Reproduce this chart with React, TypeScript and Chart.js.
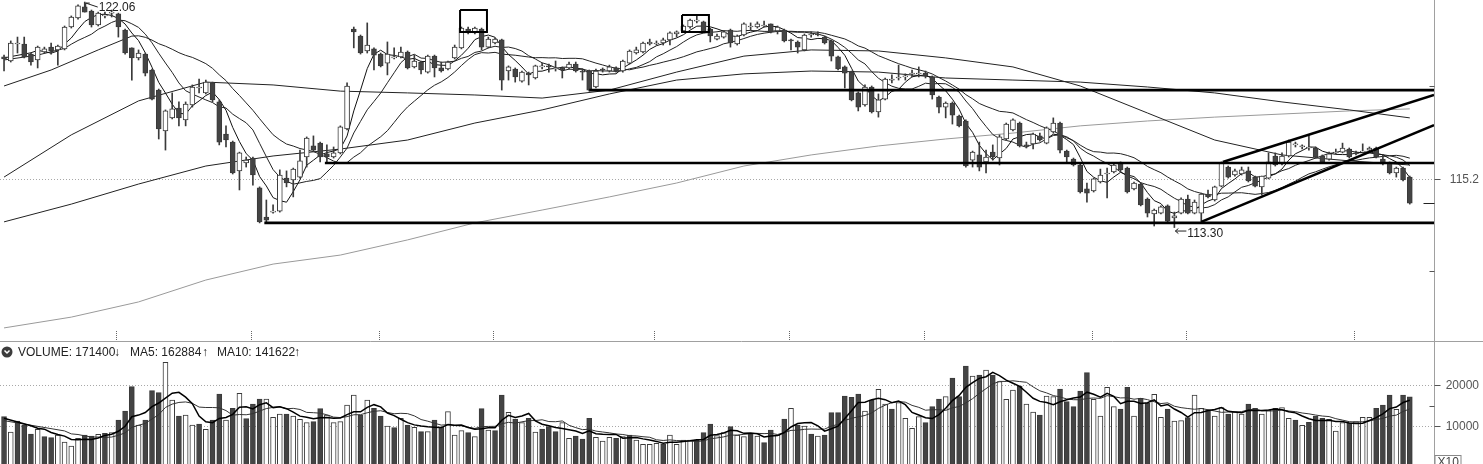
import React, { useEffect, useRef } from "react";
import { Chart, registerables } from "chart.js";

Chart.register(...registerables);

// ---------------- data ----------------
const openPrices = [
  119.93, 119.77, 120.43, 120.43, 120.04, 119.81, 120.12, 120.31, 120.20, 120.24,
  121.09, 121.44, 121.87, 121.71, 121.17, 121.52, 121.63, 121.60, 120.97, 120.28,
  119.89, 120.04, 119.42, 118.64, 117.05, 117.56, 117.94, 117.48, 118.06, 118.72,
  118.53, 118.92, 118.18, 116.93, 116.62, 115.50, 115.81, 116.00, 114.84, 113.71,
  113.90, 113.94, 115.22, 115.15, 115.26, 116.04, 116.47, 116.58, 116.16, 116.04,
  116.20, 117.13, 121.01, 120.74, 120.16, 120.24, 120.04, 119.69, 119.89, 119.93,
  120.12, 119.54, 119.73, 119.34, 119.96, 119.50, 119.46, 119.89, 120.28, 121.01,
  120.86, 121.01, 120.31, 120.47, 120.59, 119.38, 119.46, 118.99, 119.30, 119.11,
  119.54, 119.58, 119.46, 119.50, 119.50, 119.65, 119.38, 119.38, 118.76, 119.46,
  119.38, 119.50, 119.38, 119.69, 120.08, 120.12, 120.43, 120.43, 120.47, 120.59,
  120.82, 120.94, 121.09, 121.32, 121.29, 121.01, 120.62, 120.70, 120.97, 120.43,
  120.78, 121.09, 121.09, 121.13, 121.21, 120.94, 120.97, 120.59, 120.51, 120.20,
  120.78, 120.82, 120.70, 120.55, 119.93, 119.54, 119.34, 118.53, 118.06, 118.76,
  117.79, 118.29, 119.03, 119.11, 119.15, 119.27, 119.27, 119.30, 119.15, 118.37,
  117.98, 118.14, 117.63, 117.44, 115.92, 116.12, 115.85, 116.23, 116.00, 116.74,
  117.09, 117.36, 116.51, 116.55, 116.86, 116.58, 117.01, 117.36, 116.27, 115.96,
  115.73, 114.80, 114.72, 115.07, 115.38, 115.46, 115.81, 115.61, 114.80, 114.99,
  114.41, 113.83, 113.86, 114.14, 113.67, 113.86, 114.41, 113.86, 113.86, 114.60,
  114.37, 114.91, 115.65, 115.34, 115.38, 115.50, 115.26, 114.88, 115.22, 116.08,
  115.77, 116.08, 116.51, 116.43, 116.39, 116.39, 116.08, 115.96, 116.20, 116.23,
  116.35, 116.20, 116.23, 116.31, 116.39, 115.96, 115.81, 115.42, 115.61, 115.26,
];

const highPrices = [
  120.00, 120.55, 120.70, 120.70, 120.08, 120.35, 120.31, 120.47, 120.39, 121.13,
  121.52, 121.95, 122.06, 121.75, 121.67, 121.67, 121.75, 121.63, 121.01, 120.28,
  120.20, 120.08, 119.46, 118.68, 117.87, 118.53, 118.18, 118.18, 118.84, 119.07,
  119.03, 118.95, 118.26, 117.25, 116.66, 116.23, 116.04, 116.04, 114.88, 114.37,
  114.18, 115.54, 115.50, 115.61, 116.31, 116.82, 116.86, 116.62, 116.51, 116.43,
  117.25, 118.92, 121.09, 120.78, 121.25, 120.28, 120.08, 120.51, 120.28, 120.31,
  120.16, 120.00, 119.77, 120.00, 120.00, 119.73, 119.77, 120.39, 121.09, 121.09,
  121.09, 121.05, 120.70, 120.66, 120.62, 119.58, 119.50, 119.38, 119.34, 119.61,
  119.69, 119.65, 119.77, 119.54, 119.73, 119.73, 119.46, 119.42, 119.46, 119.50,
  119.61, 119.54, 119.81, 120.20, 120.31, 120.51, 120.62, 120.55, 120.66, 120.90,
  120.94, 121.17, 121.40, 121.52, 121.32, 121.05, 120.82, 120.94, 121.01, 120.78,
  121.25, 121.25, 121.29, 121.32, 121.21, 121.13, 121.01, 120.62, 120.55, 120.82,
  120.90, 120.90, 120.74, 120.59, 119.96, 119.58, 119.38, 118.57, 118.84, 118.80,
  118.49, 119.11, 119.23, 119.61, 119.27, 119.42, 119.54, 119.38, 119.19, 118.41,
  118.18, 118.18, 117.67, 117.48, 116.27, 116.62, 116.31, 116.51, 116.90, 117.36,
  117.52, 117.40, 116.62, 116.97, 116.97, 117.21, 117.56, 117.40, 116.31, 116.00,
  115.77, 115.03, 115.22, 115.57, 115.61, 115.81, 115.85, 115.65, 115.07, 115.03,
  114.45, 114.02, 114.14, 114.18, 113.90, 114.45, 114.56, 114.37, 114.64, 114.76,
  114.91, 115.85, 115.69, 115.57, 115.65, 115.65, 115.30, 115.30, 116.20, 116.20,
  116.20, 116.70, 116.62, 116.51, 116.90, 116.43, 116.12, 116.23, 116.35, 116.58,
  116.39, 116.27, 116.55, 116.43, 116.43, 116.12, 115.85, 115.65, 115.65, 115.30,
];

const lowPrices = [
  119.38, 119.73, 120.08, 119.89, 119.61, 119.50, 120.08, 120.04, 119.61, 120.20,
  121.05, 121.40, 121.67, 121.09, 121.13, 121.44, 121.48, 120.70, 120.04, 119.03,
  119.81, 119.19, 118.26, 116.74, 116.31, 117.52, 117.25, 117.25, 117.98, 118.53,
  118.49, 118.18, 116.51, 116.43, 115.38, 114.76, 115.65, 114.95, 113.48, 113.48,
  113.86, 113.90, 114.88, 114.49, 115.22, 115.65, 116.27, 115.85, 115.81, 116.00,
  116.16, 117.09, 120.28, 120.04, 120.08, 119.42, 119.54, 119.23, 119.85, 119.89,
  119.46, 119.50, 119.27, 119.30, 119.15, 119.34, 119.42, 119.85, 120.24, 120.82,
  120.82, 120.20, 120.28, 120.43, 118.64, 119.03, 118.95, 118.95, 118.84, 119.07,
  119.46, 119.34, 119.38, 119.11, 119.46, 119.34, 119.03, 118.60, 118.72, 119.34,
  119.34, 119.34, 119.34, 119.65, 120.04, 120.08, 120.39, 120.39, 120.39, 120.39,
  120.70, 120.90, 121.05, 121.25, 120.86, 120.51, 120.59, 120.66, 120.31, 120.39,
  120.74, 120.97, 121.05, 121.09, 120.86, 120.82, 120.51, 120.20, 120.08, 120.16,
  120.70, 120.74, 120.43, 119.77, 119.42, 118.72, 118.22, 117.83, 118.02, 117.75,
  117.59, 118.26, 118.92, 119.03, 119.03, 119.15, 119.15, 119.11, 118.29, 117.75,
  117.56, 117.32, 117.21, 115.65, 115.65, 115.50, 115.42, 115.92, 115.73, 116.70,
  117.05, 116.43, 116.39, 116.35, 116.66, 116.55, 116.97, 116.20, 115.81, 115.69,
  114.64, 114.29, 114.68, 115.03, 114.45, 115.42, 115.46, 114.64, 114.76, 114.14,
  113.71, 113.36, 113.83, 113.52, 113.30, 113.83, 113.83, 113.83, 113.52, 114.45,
  114.33, 114.88, 115.22, 115.30, 115.34, 115.07, 114.88, 114.56, 115.19, 115.69,
  115.73, 116.04, 116.43, 116.35, 116.31, 116.00, 115.81, 115.92, 116.16, 116.20,
  116.00, 116.12, 116.20, 116.27, 116.00, 115.73, 115.38, 115.26, 115.11, 114.21,
];

const closePrices = [
  119.85, 120.47, 120.47, 119.93, 119.73, 120.31, 120.24, 120.16, 120.35, 121.09,
  121.48, 121.91, 121.67, 121.17, 121.63, 121.56, 121.67, 121.09, 120.08, 119.89,
  120.08, 119.30, 118.29, 117.13, 117.83, 117.91, 117.56, 118.10, 118.76, 118.76,
  118.95, 118.26, 116.62, 116.70, 115.42, 116.20, 115.92, 115.34, 113.52, 113.59,
  113.94, 115.34, 115.03, 115.57, 115.89, 116.78, 116.31, 116.04, 116.04, 116.20,
  117.21, 118.80, 120.90, 120.08, 120.39, 120.00, 119.58, 120.04, 119.93, 120.12,
  119.50, 119.77, 119.42, 119.96, 119.50, 119.38, 119.73, 120.31, 121.05, 120.86,
  121.05, 120.31, 120.62, 120.62, 119.03, 119.54, 119.15, 119.34, 119.23, 119.58,
  119.58, 119.54, 119.50, 119.42, 119.65, 119.38, 119.34, 118.64, 119.38, 119.42,
  119.54, 119.38, 119.77, 120.16, 120.20, 120.47, 120.51, 120.47, 120.59, 120.86,
  120.90, 121.13, 121.36, 121.36, 120.90, 120.74, 120.74, 120.90, 120.47, 120.74,
  121.21, 121.13, 121.21, 121.17, 120.90, 121.09, 120.55, 120.55, 120.31, 120.78,
  120.82, 120.78, 120.47, 119.96, 119.46, 119.30, 118.26, 117.98, 118.76, 117.79,
  118.26, 119.07, 119.07, 119.15, 119.19, 119.30, 119.30, 119.19, 118.45, 117.98,
  118.14, 117.67, 117.25, 115.69, 116.23, 115.65, 116.04, 116.04, 116.82, 117.32,
  117.48, 116.47, 116.47, 116.93, 116.70, 117.17, 117.36, 116.31, 116.04, 115.73,
  114.68, 114.64, 115.19, 115.34, 115.42, 115.73, 115.54, 114.68, 115.03, 114.18,
  113.86, 113.98, 114.10, 113.55, 113.75, 114.41, 113.86, 114.29, 114.60, 114.49,
  114.88, 115.81, 115.26, 115.50, 115.54, 115.11, 114.91, 115.30, 115.85, 115.73,
  116.08, 116.62, 116.55, 116.47, 116.43, 116.04, 115.85, 116.16, 116.23, 116.39,
  116.04, 116.16, 116.27, 116.39, 116.04, 115.77, 115.42, 115.61, 115.15, 114.25,
];

// volume in axis units (x10 shares)
const volumes = [
  12300, 8540, 11220, 10240, 8050, 9190, 7400, 7150, 7800, 6100,
  5120, 6990, 7800, 7560, 7970, 8210, 8370, 11460, 13660, 19590,
  10240, 11460, 18620, 18130, 25530, 16340, 12440, 12680, 10240, 10490,
  9190, 11460, 17800, 11460, 14310, 17970, 11790, 15370, 16590, 16590,
  12110, 12930, 12930, 12440, 11630, 10810, 11060, 14230, 12680, 10810,
  11060, 15120, 17560, 12680, 16340, 14310, 12440, 10000, 9590, 11870,
  10240, 9680, 8620, 8620, 11460, 9680, 13500, 7800, 8860, 8370,
  7400, 14230, 9020, 8860, 17560, 13330, 11710, 10810, 11870, 8540,
  9270, 9840, 8620, 10810, 6990, 7560, 6830, 11870, 7240, 6340,
  7240, 6990, 7400, 7800, 6590, 5530, 5530, 5770, 5530, 7800,
  5530, 6590, 6590, 6590, 8370, 10490, 7640, 8370, 9840, 7800,
  7400, 7970, 7560, 5940, 9020, 7800, 11710, 14310, 10240, 10000,
  8050, 7560, 7800, 13250, 13250, 17320, 16990, 17800, 13660, 16340,
  18940, 15370, 14150, 15690, 11870, 9430, 12280, 10810, 14720, 16590,
  17150, 21710, 17150, 24630, 22200, 22440, 23660, 22440, 20810, 16500,
  18780, 19760, 15370, 13420, 12680, 17320, 17150, 19020, 15940, 14720,
  18540, 23010, 16500, 12440, 19430, 14720, 14150, 19430, 12440, 16750,
  15530, 17720, 12110, 14150, 11220, 11300, 12030, 17560, 14310, 13740,
  12440, 14470, 12930, 13500, 12930, 15370, 14310, 12930, 13900, 14310,
  14470, 11870, 11460, 10160, 10890, 12440, 11870, 11630, 8780, 10810,
  10650, 11060, 12110, 12110, 14310, 15120, 17560, 14070, 17560, 17140,
];

// 1 = hollow (up) volume bar, 0 = filled (down)
const volumeUp = [
  0, 1, 0, 0, 0, 1, 0, 0, 1, 1,
  1, 1, 0, 0, 1, 0, 1, 0, 0, 0,
  1, 0, 0, 0, 1, 1, 0, 1, 1, 0,
  1, 0, 0, 1, 0, 1, 0, 0, 0, 1,
  1, 1, 0, 1, 1, 1, 0, 0, 1, 1,
  1, 1, 1, 0, 1, 0, 0, 1, 0, 1,
  0, 1, 0, 1, 0, 0, 1, 1, 1, 0,
  1, 0, 1, 0, 0, 1, 0, 1, 0, 1,
  0, 0, 0, 1, 1, 0, 0, 0, 1, 1,
  1, 0, 1, 0, 1, 1, 1, 1, 0, 1,
  1, 1, 1, 0, 0, 0, 1, 1, 0, 1,
  1, 0, 1, 0, 0, 1, 0, 1, 0, 1,
  0, 1, 0, 0, 0, 0, 0, 0, 1, 0,
  1, 1, 0, 1, 1, 1, 1, 0, 0, 0,
  1, 0, 0, 0, 1, 0, 1, 0, 1, 1,
  1, 0, 1, 1, 0, 1, 1, 0, 0, 0,
  0, 0, 1, 1, 1, 1, 0, 0, 1, 0,
  0, 1, 1, 0, 1, 1, 0, 1, 1, 0,
  1, 1, 0, 1, 1, 0, 0, 1, 1, 0,
  1, 1, 0, 1, 0, 0, 0, 1, 1, 1,
  0, 1, 1, 1, 0, 0, 0, 1, 0, 0,
];

// long moving averages at sample candles
const maSampleIdx = [0, 10, 20, 30, 40, 50, 60, 70, 80, 90, 100, 110, 120, 130, 140, 150, 160, 170, 180, 190, 200, 209];
const ma60Line = [115.26, 116.90, 118.22, 118.95, 118.84, 118.60, 118.53, 118.45, 118.33, 118.64, 119.34, 119.96, 120.20, 120.16, 119.89, 119.54, 118.80, 117.75, 116.70, 116.12, 115.89, 115.73];
const ma120Line = [113.52, 114.21, 114.99, 115.69, 116.08, 116.35, 116.70, 117.36, 117.87, 118.49, 119.03, 119.27, 119.38, 119.34, 119.11, 119.03, 118.95, 118.76, 118.53, 118.18, 117.87, 117.56];
const ma250Line = [109.40, 109.82, 110.41, 111.26, 111.88, 112.23, 112.82, 113.48, 113.98, 114.49, 115.03, 115.69, 116.12, 116.47, 116.74, 116.97, 117.25, 117.44, 117.59, 117.71, 117.83, 117.91];

// short averages before a full window exists
const ma5LeadIdx = [0];
const ma5Lead = [119.89];
const ma10LeadIdx = [0, 5];
const ma10Lead = [119.81, 120.0];
const ma20LeadIdx = [0, 7, 14];
const ma20Lead = [118.8, 119.42, 120.2];
const volMa5LeadIdx = [0];
const volMa5Lead = [11870];
const volMa10LeadIdx = [0];
const volMa10Lead = [11300];

// drawn support / resistance lines
const levelPrices = [118.64, 115.81, 113.48];
const levelStartIdx = [87, 47.7, 38.7];
const channelUpperIdx = [181.2, 212.6];
const channelUpperPrice = [115.85, 118.45];
const channelLowerIdx = [178, 212.6];
const channelLowerPrice = [113.52, 117.28];
const boxStartIdx = [67.8, 100.8];
const boxEndIdx = [71.8, 104.8];
const boxTopPrice = [121.75, 121.56];
const boxBottomPrice = [120.9, 120.9];

const monthTickIdx = [17, 37, 56, 73, 97, 117, 137, 162, 176, 201];
const priceTicks = [118.8, 115.2, 111.6];
const priceLabel = 115.2;
const volumeTicks = [20000, 10000];
const volumeMinorTick = 15000;
const highMarkIdx = 12;
const highMark = 122.06;
const lowMarkIdx = 174;
const lowMark = 113.3;
const headerVolume = "171400";
const headerMa5 = "162884";
const headerMa10 = "141622";

// ---------------- helpers ----------------
const X_MIN = -0.6;
const X_MAX = 212.6;
const P_MIN = 108.853;
const P_MAX = 122.14;
const FONT = '12px Arial, "Liberation Sans", sans-serif';
const DARK = "#444444";

function movingAverage(values: number[], n: number) {
  const out: { x: number; y: number }[] = [];
  for (let i = n - 1; i < values.length; i++) {
    let s = 0;
    for (let k = i - n + 1; k <= i; k++) s += values[k];
    out.push({ x: i, y: s / n });
  }
  return out;
}

function withLead(leadIdx: number[], lead: number[], rest: { x: number; y: number }[]) {
  return [...leadIdx.map((x, k) => ({ x, y: lead[k] })), ...rest];
}

function lineDs(data: any[], color: string, width: number, order: number) {
  return {
    type: "line" as const,
    data,
    borderColor: color,
    borderWidth: width,
    pointRadius: 0,
    pointHoverRadius: 0,
    fill: false,
    tension: 0,
    order,
  };
}

const pricePlugin = {
  id: "priceDecor",
  beforeDatasetsDraw(chart: any) {
    const { ctx, chartArea, scales } = chart;
    ctx.save();
    ctx.strokeStyle = "#a8a8a8";
    ctx.lineWidth = 1;
    ctx.setLineDash([1, 2]);
    const py = Math.round(scales.y.getPixelForValue(priceLabel)) + 0.5;
    ctx.beginPath();
    ctx.moveTo(chartArea.left, py);
    ctx.lineTo(chartArea.right, py);
    ctx.stroke();
    ctx.restore();
  },
  afterDraw(chart: any) {
    const { ctx, chartArea, scales, width, height } = chart;
    const xs = scales.x;
    const ys = scales.y;
    ctx.save();
    const ax = Math.round(chartArea.right) + 0.5;
    ctx.lineWidth = 1;
    ctx.strokeStyle = "#a0a0a0";
    ctx.beginPath();
    ctx.moveTo(0, height - 0.5);
    ctx.lineTo(width, height - 0.5);
    ctx.stroke();
    ctx.beginPath();
    ctx.moveTo(ax, 0);
    ctx.lineTo(ax, height);
    ctx.stroke();

    ctx.strokeStyle = "#555";
    priceTicks.forEach((v) => {
      const py = Math.round(ys.getPixelForValue(v)) + 0.5;
      ctx.beginPath();
      if (v === priceLabel) {
        ctx.moveTo(ax, py);
        ctx.lineTo(ax + 6, py);
      } else {
        ctx.moveTo(ax - 5, py);
        ctx.lineTo(ax, py);
      }
      ctx.stroke();
    });
    const lastClose = closePrices[closePrices.length - 1];
    const lcy = Math.round(ys.getPixelForValue(lastClose)) + 0.5;
    ctx.strokeStyle = "#222";
    ctx.beginPath();
    ctx.moveTo(ax - 11, lcy);
    ctx.lineTo(ax, lcy);
    ctx.stroke();

    ctx.font = FONT;
    ctx.fillStyle = "#555";
    ctx.textBaseline = "middle";
    ctx.textAlign = "right";
    ctx.fillText(priceLabel.toFixed(1), 1479, Math.round(ys.getPixelForValue(priceLabel)) + 1);

    // month separators on the time axis
    ctx.strokeStyle = "#666";
    ctx.setLineDash([1, 1]);
    monthTickIdx.forEach((i) => {
      const px = Math.round(xs.getPixelForValue(i)) - 1.5;
      ctx.beginPath();
      ctx.moveTo(px, height - 11);
      ctx.lineTo(px, height - 2);
      ctx.stroke();
    });
    ctx.setLineDash([]);

    // high / low markers
    ctx.strokeStyle = "#222";
    ctx.fillStyle = "#222";
    ctx.textAlign = "left";
    const hx = xs.getPixelForValue(highMarkIdx);
    const hy = ys.getPixelForValue(highMark);
    ctx.beginPath();
    ctx.moveTo(hx + 13, hy + 5);
    ctx.lineTo(hx + 1, hy + 1);
    ctx.moveTo(hx + 1, hy + 5);
    ctx.lineTo(hx + 1, hy + 1);
    ctx.lineTo(hx + 5, hy + 1);
    ctx.stroke();
    ctx.fillText(highMark.toFixed(2), hx + 14, hy + 5.5);

    const lx = xs.getPixelForValue(lowMarkIdx);
    const ly = ys.getPixelForValue(lowMark);
    ctx.beginPath();
    ctx.moveTo(lx + 12, ly + 3.5);
    ctx.lineTo(lx + 1, ly + 3.5);
    ctx.moveTo(lx + 4, ly + 1);
    ctx.lineTo(lx + 1, ly + 3.5);
    ctx.lineTo(lx + 4, ly + 6);
    ctx.stroke();
    ctx.fillText(lowMark.toFixed(2), lx + 13, ly + 6);
    ctx.restore();
  },
};

const volumePlugin = {
  id: "volumeDecor",
  beforeDatasetsDraw(chart: any) {
    const { ctx, chartArea, scales } = chart;
    ctx.save();
    ctx.strokeStyle = "#a8a8a8";
    ctx.lineWidth = 1;
    ctx.setLineDash([1, 2]);
    volumeTicks.forEach((v) => {
      const py = Math.round(scales.y.getPixelForValue(v)) + 0.5;
      ctx.beginPath();
      ctx.moveTo(chartArea.left, py);
      ctx.lineTo(chartArea.right, py);
      ctx.stroke();
    });
    ctx.restore();
  },
  afterDraw(chart: any) {
    const { ctx, chartArea, scales, height } = chart;
    const ys = scales.y;
    ctx.save();
    const ax = Math.round(chartArea.right) + 0.5;
    ctx.lineWidth = 1;
    ctx.strokeStyle = "#a0a0a0";
    ctx.beginPath();
    ctx.moveTo(ax, 0);
    ctx.lineTo(ax, height);
    ctx.stroke();
    ctx.strokeStyle = "#555";
    volumeTicks.forEach((v) => {
      const py = Math.round(ys.getPixelForValue(v)) + 0.5;
      ctx.beginPath();
      ctx.moveTo(ax, py);
      ctx.lineTo(ax + 6, py);
      ctx.stroke();
    });
    const my = Math.round(ys.getPixelForValue(volumeMinorTick)) + 0.5;
    ctx.beginPath();
    ctx.moveTo(ax - 5, my);
    ctx.lineTo(ax, my);
    ctx.stroke();

    ctx.font = FONT;
    ctx.fillStyle = "#555";
    ctx.textBaseline = "middle";
    ctx.textAlign = "right";
    volumeTicks.forEach((v) => {
      ctx.fillText(String(v), 1479, Math.round(ys.getPixelForValue(v)) + 1);
    });

    // X10 box
    ctx.strokeStyle = "#888";
    ctx.strokeRect(ax + 0.5, 113.5, 26, 16);
    ctx.fillStyle = "#444";
    ctx.textAlign = "left";
    ctx.textBaseline = "top";
    ctx.fillText("X10", ax + 3, 115);

    // header
    ctx.fillStyle = "#3c3c3c";
    ctx.beginPath();
    ctx.arc(7, 10, 5.5, 0, Math.PI * 2);
    ctx.fill();
    ctx.strokeStyle = "#fff";
    ctx.lineWidth = 1.5;
    ctx.beginPath();
    ctx.moveTo(4.5, 8.5);
    ctx.lineTo(7, 11);
    ctx.lineTo(9.5, 8.5);
    ctx.stroke();
    ctx.fillStyle = "#222";
    ctx.textBaseline = "middle";
    ctx.fillText("VOLUME: " + headerVolume, 18, 10.5);
    ctx.fillText("\u2193", 114, 10.5);
    ctx.fillText("MA5: " + headerMa5, 130, 10.5);
    ctx.fillText("\u2191", 202, 10.5);
    ctx.fillText("MA10: " + headerMa10, 217, 10.5);
    ctx.fillText("\u2191", 294, 10.5);
    ctx.restore();
  },
};

function buildPriceConfig(): any {
  const idx = closePrices.map((_, i) => i);
  const up = idx.map((i) => closePrices[i] >= openPrices[i]);
  const sampled = (vals: number[]) => maSampleIdx.map((x, k) => ({ x, y: vals[k] }));
  const datasets: any[] = [
    lineDs(sampled(ma250Line), "#9a9a9a", 1, 20),
    lineDs(sampled(ma120Line), "#222", 1, 19),
    lineDs(sampled(ma60Line), "#222", 1, 18),
    lineDs(withLead(ma20LeadIdx, ma20Lead, movingAverage(closePrices, 20)), "#222", 1, 17),
    lineDs(withLead(ma10LeadIdx, ma10Lead, movingAverage(closePrices, 10)), "#222", 1, 16),
    lineDs(withLead(ma5LeadIdx, ma5Lead, movingAverage(closePrices, 5)), "#111", 1, 15),
    {
      type: "bar",
      data: idx.map((i) => ({ x: i, y: [lowPrices[i], highPrices[i]] })),
      backgroundColor: "#3a3a3a",
      borderWidth: 0,
      barThickness: 1,
      grouped: false,
      order: 10,
    },
    {
      type: "bar",
      data: idx.map((i) => ({ x: i, y: [openPrices[i], closePrices[i]] })),
      backgroundColor: up.map((u) => (u ? "#ffffff" : DARK)),
      borderColor: "#3a3a3a",
      borderWidth: 1,
      borderSkipped: false,
      barThickness: 5,
      grouped: false,
      order: 9,
    },
  ];
  levelPrices.forEach((p, k) => {
    datasets.push(lineDs([{ x: levelStartIdx[k], y: p }, { x: X_MAX, y: p }], "#000", 2.6, 2));
  });
  datasets.push(
    lineDs(channelUpperIdx.map((x, k) => ({ x, y: channelUpperPrice[k] })), "#000", 2.6, 2)
  );
  datasets.push(
    lineDs(channelLowerIdx.map((x, k) => ({ x, y: channelLowerPrice[k] })), "#000", 2.6, 2)
  );
  boxStartIdx.forEach((x0, k) => {
    const x1 = boxEndIdx[k];
    const t = boxTopPrice[k];
    const b = boxBottomPrice[k];
    datasets.push(
      lineDs(
        [
          { x: x0, y: t },
          { x: x1, y: t },
          { x: x1, y: b },
          { x: x0, y: b },
          { x: x0, y: t },
        ],
        "#000",
        2,
        1
      )
    );
  });
  return {
    type: "bar",
    data: { datasets },
    options: {
      animation: false,
      responsive: false,
      devicePixelRatio: 1,
      events: [],
      layout: { padding: { left: 0, right: 49, top: 0, bottom: 0 } },
      plugins: { legend: { display: false }, tooltip: { enabled: false } },
      scales: {
        x: { type: "linear", min: X_MIN, max: X_MAX, display: false, offset: false },
        y: { type: "linear", min: P_MIN, max: P_MAX, display: false },
      },
    },
    plugins: [pricePlugin],
  };
}

function buildVolumeConfig(): any {
  const idx = volumes.map((_, i) => i);
  return {
    type: "bar",
    data: {
      datasets: [
        lineDs(withLead(volMa5LeadIdx, volMa5Lead, movingAverage(volumes, 5)), "#000", 1.5, 1),
        lineDs(withLead(volMa10LeadIdx, volMa10Lead, movingAverage(volumes, 10)), "#333", 1, 2),
        {
          type: "bar",
          data: idx.map((i) => ({ x: i, y: volumes[i] })),
          backgroundColor: volumeUp.map((u) => (u ? "#ffffff" : DARK)),
          borderColor: "#3a3a3a",
          borderWidth: 1,
          borderSkipped: false,
          barThickness: 5,
          grouped: false,
          order: 5,
        },
      ],
    },
    options: {
      animation: false,
      responsive: false,
      devicePixelRatio: 1,
      events: [],
      layout: { padding: { left: 0, right: 49, top: 2, bottom: 0 } },
      plugins: { legend: { display: false }, tooltip: { enabled: false } },
      scales: {
        x: { type: "linear", min: X_MIN, max: X_MAX, display: false, offset: false },
        y: { type: "linear", min: 0, max: 30000, display: false },
      },
    },
    plugins: [volumePlugin],
  };
}

export default function App() {
  const priceRef = useRef<HTMLCanvasElement>(null);
  const volRef = useRef<HTMLCanvasElement>(null);

  useEffect(() => {
    const pc = new Chart(priceRef.current as HTMLCanvasElement, buildPriceConfig());
    const vc = new Chart(volRef.current as HTMLCanvasElement, buildVolumeConfig());
    return () => {
      pc.destroy();
      vc.destroy();
    };
  }, []);

  return (
    <div
      style={{
        position: "fixed",
        left: 0,
        top: 0,
        width: 1483,
        height: 464,
        overflow: "hidden",
        background: "#fff",
      }}
    >
      <canvas
        ref={priceRef}
        width={1483}
        height={342}
        style={{ position: "absolute", left: 0, top: 0, width: 1483, height: 342 }}
      />
      <canvas
        ref={volRef}
        width={1483}
        height={125}
        style={{ position: "absolute", left: 0, top: 342, width: 1483, height: 125 }}
      />
    </div>
  );
}
